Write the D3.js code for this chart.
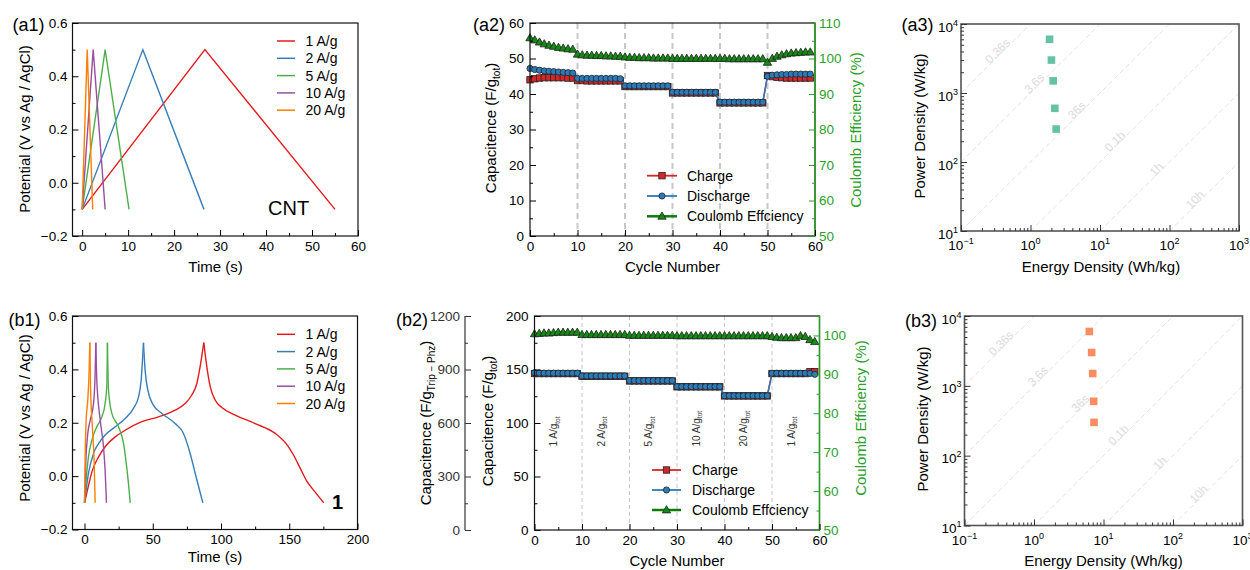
<!DOCTYPE html>
<html><head><meta charset="utf-8">
<script src="https://cdn.jsdelivr.net/npm/d3@7"></script>
<style>body{margin:0;background:#fff;} svg{font-family:"Liberation Sans",Arial,sans-serif;}</style>
</head><body><svg id="c" width="1250" height="570"></svg>
<script>
// ================= DATA =================
const rateLabels = ["1 A/g", "2 A/g", "5 A/g", "10 A/g", "20 A/g"];
// (a1) CNT galvanostatic charge/discharge: [time (s), potential (V)]
const cnt1A = [[0, -0.1], [26.7, 0.5], [55, -0.1]];
const cnt2A = [[0, -0.1], [13.2, 0.5], [26.5, -0.1]];
const cnt5A = [[0, -0.1], [5.0, 0.5], [10.2, -0.1]];
const cnt10A = [[0, -0.1], [2.4, 0.5], [5.0, -0.1]];
const cnt20A = [[0, -0.1], [1.1, 0.5], [2.3, -0.1]];
// (b1) compound 1 : charge and discharge branches
const c1_1A_ch = [[0,-0.1],[2.5,-0.045],[5.4,0.016],[10.3,0.072],[15.1,0.11],[22.5,0.147],[29.8,0.172],[42,0.204],[54.2,0.222],[66.4,0.247],[73.7,0.272],[78.6,0.304],[82.3,0.347],[84.7,0.41],[87.4,0.5]];
const c1_1A_dis = [[87.4,0.5],[89.6,0.41],[92.1,0.335],[95.7,0.285],[100.6,0.257],[110.4,0.229],[125,0.197],[139.7,0.16],[148,0.12],[153,0.08],[158,0.03],[163,-0.02],[169,-0.06],[175.3,-0.1]];
const c1_2A_ch = [[0,-0.1],[2.9,0.01],[6.6,0.085],[10.3,0.122],[15.1,0.154],[22.5,0.185],[29.8,0.216],[35.9,0.254],[39.6,0.297],[41.5,0.36],[43.2,0.5]];
const c1_2A_dis = [[43.2,0.5],[44.4,0.397],[46.4,0.322],[50.5,0.266],[56.7,0.235],[66.4,0.197],[72.5,0.16],[77.4,0.085],[81.1,0.01],[86.7,-0.1]];
const c1_5A_ch = [[0,-0.1],[1.2,-0.015],[2.9,0.072],[5.4,0.135],[9.0,0.185],[12.7,0.222],[15.1,0.272],[16.4,0.347],[16.8,0.5]];
const c1_5A_dis = [[16.8,0.5],[17.6,0.322],[20,0.235],[24.9,0.185],[28.6,0.122],[30.3,0.06],[32.2,-0.027],[33.5,-0.1]];
const c1_10A_ch = [[0,-0.1],[1,0.06],[2.4,0.16],[4.2,0.21],[6.6,0.272],[7.8,0.385],[8.3,0.5]];
const c1_10A_dis = [[8.3,0.5],[9,0.36],[11.5,0.21],[13.9,0.11],[15.1,0.022],[16.1,-0.1]];
const c1_20A_ch = [[0,-0.1],[0.5,0.085],[1.2,0.21],[2.4,0.285],[3.4,0.397],[3.9,0.5]];
const c1_20A_dis = [[3.9,0.5],[4.4,0.335],[5.9,0.172],[7.1,0.047],[7.8,-0.1]];

// cycling (a2, b2)
const cycleNo = [0,1,2,3,4,5,6,7,8,9,10,11,12,13,14,15,16,17,18,19,20,21,22,23,24,25,26,27,28,29,30,31,32,33,34,35,36,37,38,39,40,41,42,43,44,45,46,47,48,49,50,51,52,53,54,55,56,57,58,59];
const cntCharge = [44.0,44.3,44.5,44.6,44.6,44.6,44.6,44.6,44.5,44.5, 43.8,43.8,43.7,43.7,43.7,43.7,43.7,43.7,43.7,43.7, 42.1,42.1,42.1,42.1,42.1,42.1,42.1,42.1,42.1,42.1, 40.3,40.3,40.3,40.3,40.3,40.3,40.3,40.3,40.3,40.3, 37.5,37.5,37.5,37.5,37.5,37.5,37.5,37.5,37.5,37.5, 45.2,44.9,44.7,44.6,44.5,44.5,44.5,44.5,44.5,44.5];
const cntDischarge = [47.2,46.9,46.7,46.5,46.4,46.3,46.2,46.1,46.0,45.9, 44.4,44.4,44.4,44.4,44.4,44.4,44.4,44.4,44.4,44.3, 42.3,42.3,42.3,42.3,42.3,42.3,42.3,42.3,42.3,42.3, 40.5,40.5,40.5,40.5,40.5,40.5,40.5,40.5,40.5,40.5, 37.7,37.7,37.7,37.7,37.7,37.7,37.7,37.7,37.7,37.7, 45.0,45.3,45.4,45.5,45.5,45.6,45.6,45.6,45.6,45.6];
const cntCE = [105.8,105.2,104.6,104.1,103.7,103.4,103.1,102.9,102.7,102.6, 101.2,101.0,100.9,100.9,100.8,100.8,100.7,100.7,100.6,100.6, 100.4,100.3,100.3,100.2,100.2,100.2,100.1,100.1,100.1,100.1, 100.0,100.0,100.0,100.0,100.0,100.0,100.0,100.0,100.0,100.0, 100.0,100.0,99.9,99.9,99.9,99.9,99.9,99.9,99.9,99.9, 98.9,100.0,100.6,101.0,101.3,101.5,101.6,101.7,101.8,101.8];
const c1Charge = [146.2,146.2,146.2,146.2,146.2,146.2,146.2,146.2,146.2,146.2, 143.7,143.7,143.7,143.7,143.7,143.7,143.7,143.7,143.7,143.7, 139.3,139.3,139.3,139.3,139.3,139.3,139.3,139.3,139.3,139.3, 133.8,133.8,133.8,133.8,133.8,133.8,133.8,133.8,133.8,133.8, 125.3,125.3,125.3,125.3,125.3,125.3,125.3,125.3,125.3,125.3, 146.2,146.2,146.2,146.2,146.2,146.2,146.2,146.2,148.0,148.0];
const c1Discharge = [147.0,146.7,146.6,146.6,146.6,146.6,146.6,146.6,146.6,146.6, 144.0,144.0,144.0,144.0,144.0,144.0,144.0,144.0,144.0,144.0, 139.6,139.6,139.6,139.6,139.6,139.6,139.6,139.6,139.6,139.6, 134.0,134.0,134.0,134.0,134.0,134.0,134.0,134.0,134.0,134.0, 125.5,125.5,125.5,125.5,125.5,125.5,125.5,125.5,125.5,125.5, 146.5,146.5,146.5,146.5,146.5,146.5,146.5,146.5,146.3,145.5];
const c1CE = [100.4,100.5,100.6,100.6,100.7,100.8,100.8,100.8,100.8,100.8, 100.2,100.2,100.2,100.2,100.2,100.2,100.2,100.2,100.2,100.2, 100.0,100.0,100.0,100.0,100.0,100.0,100.0,100.0,100.0,100.0, 99.9,99.9,99.9,99.9,99.9,99.9,99.9,99.9,99.9,99.9, 99.9,99.9,99.9,99.9,99.9,99.9,99.9,99.9,99.9,99.9, 99.7,99.5,99.4,99.4,99.4,99.4,99.9,99.7,98.9,98.4];
const stepCycles = [10, 20, 30, 40, 50];
const rateNotes = ["1 A/g", "2 A/g", "5 A/g", "10 A/g", "20 A/g", "1 A/g"];
const noteCycles = [5, 15, 25, 35, 45, 55];

// Ragone (a3, b3)
const cntEnergy = [1.88, 2.0, 2.12, 2.24, 2.34];
const cntPower = [6000, 3000, 1500, 600, 300];
const c1Energy = [6.25, 6.76, 7.0, 7.23, 7.3];
const c1Power = [6000, 3000, 1500, 600, 300];
const timeLabels = ["0.36s", "3.6s", "36s", "0.1h", "1h", "10h"];
const timeHours = [0.0001, 0.001, 0.01, 0.1, 1, 10];
const timeLabelEnergy = [0.37, 1.25, 5.1, 18, 71, 257];

// ================= STYLE =================
const rateColors = ["#e41a1c", "#377eb8", "#4daf4a", "#984ea3", "#ff7f00"];
const chargeColor = "#d62728", dischargeColor = "#2b7bba", ceFill = "#138a13", ceLine = "#0b7d0b", axisGreen = "#2ca02c";
const TICKFS = 13.5;

const svg = d3.select("#c");

function styleAxis(g, color, fs) {
  g.attr("font-family", null).attr("font-size", fs);
  g.selectAll("line").attr("stroke", color);
  g.selectAll("path").attr("stroke", color);
  g.selectAll("text").attr("fill", color);
}
function linAxis(orient, scale, pos, majors, minors, fmt, opts = {}) {
  const color = opts.color || "#000";
  const dir = opts.out ? 1 : -1;
  const mk = orient === "bottom" ? d3.axisBottom : orient === "left" ? d3.axisLeft : d3.axisRight;
  const tr = orient === "bottom" ? `translate(0,${pos})` : `translate(${pos},0)`;
  const gMin = svg.append("g").attr("transform", tr).call(mk(scale).tickValues(minors).tickSize(dir * 3).tickSizeOuter(0).tickFormat(""));
  gMin.select(".domain").remove(); styleAxis(gMin, color, TICKFS);
  const gMaj = svg.append("g").attr("transform", tr).call(mk(scale).tickValues(majors).tickSize(dir * 6).tickSizeOuter(0).tickPadding(opts.pad == null ? 5 : opts.pad).tickFormat(fmt));
  gMaj.select(".domain").remove();
  styleAxis(gMaj, color, TICKFS);
  return gMaj;
}
function frame(R, color, w) {
  svg.append("rect").attr("x", R.L).attr("y", R.T).attr("width", R.R - R.L).attr("height", R.B - R.T)
    .attr("fill", "none").attr("stroke", color).attr("stroke-width", w);
}
function label(txt, x, y, fs, opts = {}) {
  return svg.append("text").attr("x", x).attr("y", y).attr("font-size", fs)
    .attr("text-anchor", opts.anchor || "start").attr("fill", opts.color || "#000")
    .attr("font-weight", opts.bold ? "bold" : null).text(txt);
}
function vTitle(parts, x, y, fs, color) {
  const t = svg.append("text").attr("x", x).attr("y", y).attr("font-size", fs).attr("text-anchor", "middle")
    .attr("fill", color || "#000").attr("transform", `rotate(-90,${x},${y})`);
  parts.forEach(p => {
    const ts = t.append("tspan").text(p.t);
    if (p.sub) ts.attr("font-size", p.fs || fs * 0.65).attr("dy", p.dy || 4);
    if (p.back) ts.attr("dy", -(p.dy || 4));
  });
  return t;
}
const fmt1 = d3.format(".1f"), fmtD = d3.format("d");

// ---------- GCD panels ----------
function gcdPanel(R, xDom, xMaj, xMin, seriesList, curve, legendY, tag, tagPos) {
  const x = d3.scaleLinear(xDom, [R.L, R.R]);
  const y = d3.scaleLinear([-0.2, 0.6], [R.B, R.T]);
  const ln = d3.line().x(d => x(d[0])).y(d => y(d[1])).curve(curve);
  seriesList.forEach((branches, i) => {
    branches.forEach(b => svg.append("path").attr("d", ln(b)).attr("fill", "none")
      .attr("stroke", rateColors[i]).attr("stroke-width", 1.4));
  });
  frame(R, "#111", 1.2);
  linAxis("bottom", x, R.B, xMaj, xMin, fmtD);
  linAxis("left", y, R.L, [-0.2, 0, 0.2, 0.4, 0.6], [-0.1, 0.1, 0.3, 0.5], fmt1);
  rateLabels.forEach((r, i) => {
    const ly = legendY[i];
    svg.append("line").attr("x1", 277).attr("x2", 295).attr("y1", ly).attr("y2", ly)
      .attr("stroke", rateColors[i]).attr("stroke-width", 1.5);
    label(r, 305.5, ly + 5, 14);
  });
  label(tag.t, tagPos[0], tagPos[1], tag.fs, { bold: tag.bold });
}
const A1 = { L: 72.5, R: 358, T: 23, B: 236 };
gcdPanel(A1, [-2.1, 60], [0, 10, 20, 30, 40, 50, 60], [5, 15, 25, 35, 45, 55],
  [[cnt1A], [cnt2A], [cnt5A], [cnt10A], [cnt20A]], d3.curveLinear, [41, 58.3, 75.6, 92.9, 110.2], { t: "CNT", fs: 20 }, [268, 215]);
label("(a1)", 12.5, 31, 18);
vTitle([{ t: "Potential (V vs Ag / AgCl)" }], 29.5, 129, 15);
label("Time (s)", 215.5, 272, 15, { anchor: "middle" });

const B1 = { L: 72.5, R: 357.5, T: 316, B: 529.5 };
gcdPanel(B1, [-8.8, 200], [0, 50, 100, 150, 200], [25, 75, 125, 175],
  [[c1_1A_ch, c1_1A_dis], [c1_2A_ch, c1_2A_dis], [c1_5A_ch, c1_5A_dis], [c1_10A_ch, c1_10A_dis], [c1_20A_ch, c1_20A_dis]],
  d3.curveMonotoneX, [334.3, 351.6, 368.9, 386.2, 403.5], { t: "1", fs: 20, bold: true }, [332, 508.5]);
label("(b1)", 8.5, 326, 18);
vTitle([{ t: "Potential (V vs Ag / AgCl)" }], 29.5, 418, 15);
label("Time (s)", 215, 562, 15, { anchor: "middle" });

// ---------- cycling panels ----------
function marker(type, sel, cx, cy, fill) {
  if (type === "sq") sel.append("rect").attr("x", cx - 3.2).attr("y", cy - 3.2).attr("width", 6.4).attr("height", 6.4)
    .attr("fill", fill).attr("stroke", "#222").attr("stroke-width", 0.8);
  else if (type === "ci") sel.append("circle").attr("cx", cx).attr("cy", cy).attr("r", 3.1)
    .attr("fill", fill).attr("stroke", "#222").attr("stroke-width", 0.8);
  else sel.append("path").attr("d", d3.symbol(d3.symbolTriangle, 30)()).attr("transform", `translate(${cx},${cy + 0.5})`)
    .attr("fill", fill).attr("stroke", "#222").attr("stroke-width", 0.8);
}
function cyclePanel(R, yLdom, yLmaj, yLmin, yRdom, yRmaj, yRmin, charge, discharge, ce, dash, legendPos) {
  const x = d3.scaleLinear([0, 60], [R.L, R.R]);
  const yL = d3.scaleLinear(yLdom, [R.B, R.T]);
  const yR = d3.scaleLinear(yRdom, [R.B, R.T]);
  stepCycles.forEach(c => svg.append("line").attr("x1", x(c)).attr("x2", x(c)).attr("y1", R.T).attr("y2", R.B)
    .attr("stroke", "#c8c8c8").attr("stroke-width", dash.w).attr("stroke-dasharray", dash.d));
  const series = [
    { v: charge, y: yL, type: "sq", fill: chargeColor, line: chargeColor },
    { v: discharge, y: yL, type: "ci", fill: dischargeColor, line: dischargeColor },
    { v: ce, y: yR, type: "tr", fill: ceFill, line: ceLine }];
  series.forEach(s => {
    const ln = d3.line().x((d, i) => x(cycleNo[i])).y(d => s.y(d));
    svg.append("path").attr("d", ln(s.v)).attr("fill", "none").attr("stroke", s.line).attr("stroke-width", 1.5);
    const g = svg.append("g");
    s.v.forEach((d, i) => marker(s.type, g, x(cycleNo[i]), s.y(d), s.fill));
  });
  frame(R, "#111", 1.2);
  svg.append("line").attr("x1", R.R).attr("x2", R.R).attr("y1", R.T).attr("y2", R.B).attr("stroke", axisGreen).attr("stroke-width", 1.5);
  linAxis("bottom", x, R.B, [0, 10, 20, 30, 40, 50, 60], [5, 15, 25, 35, 45, 55], fmtD);
  linAxis("left", yL, R.L, yLmaj, yLmin, fmtD, { pad: 6 });
  linAxis("right", yR, R.R, yRmaj, yRmin, fmtD, { color: axisGreen, pad: 4 });
  // legend
  const names = ["Charge", "Discharge", "Coulomb Effciency"];
  names.forEach((n, i) => {
    const s = series[i], ly = legendPos.y[i];
    svg.append("line").attr("x1", legendPos.x0).attr("x2", legendPos.x1).attr("y1", ly).attr("y2", ly)
      .attr("stroke", s.line).attr("stroke-width", i === 2 ? 2.5 : 1.8);
    marker(s.type, svg, (legendPos.x0 + legendPos.x1) / 2, ly, s.fill);
    label(n, legendPos.tx, ly + 5, 14);
  });
  return { x, yL, yR };
}
const A2 = { L: 530, R: 815, T: 23, B: 236 };
cyclePanel(A2, [0, 60], [0, 10, 20, 30, 40, 50, 60], [5, 15, 25, 35, 45, 55],
  [50, 110], [50, 60, 70, 80, 90, 100, 110], [55, 65, 75, 85, 95, 105],
  cntCharge, cntDischarge, cntCE, { w: 2, d: "6,4" }, { x0: 647, x1: 677, tx: 687, y: [175.7, 196, 216.3] });
label("(a2)", 473, 31, 18);
vTitle([{ t: "Capacitence (F/g" }, { t: "tot", sub: true, fs: 10, dy: 4 }, { t: ")", back: true, dy: 4 }], 496, 128, 15);
vTitle([{ t: "Coulomb Efficiency (%)" }], 861, 130, 15, axisGreen);
label("Cycle Number", 672.5, 272, 15, { anchor: "middle" });

const B2 = { L: 534.5, R: 819.5, T: 316, B: 530 };
const b2 = cyclePanel(B2, [0, 200], [0, 50, 100, 150, 200], [25, 75, 125, 175],
  [50, 105], [50, 60, 70, 80, 90, 100], [55, 65, 75, 85, 95, 105],
  c1Charge, c1Discharge, c1CE, { w: 1, d: "4,3" }, { x0: 652, x1: 681, tx: 692, y: [470, 490, 510] });
// rate annotations
rateNotes.forEach((n, i) => {
  const xx = b2.x(noteCycles[i]) - 1, yy = 446.5;
  const t = svg.append("text").attr("x", xx).attr("y", yy).attr("font-size", 10).attr("fill", "#333")
    .attr("transform", `rotate(-90,${xx},${yy})`);
  t.append("tspan").text(n);
  t.append("tspan").attr("font-size", 6.5).attr("dy", 2.5).text("tot");
});
// secondary left axis (F/g of Trip-Phz)
const yTP = d3.scaleLinear([0, 1200], [B2.B, B2.T]);
svg.append("line").attr("x1", 465).attr("x2", 465).attr("y1", B2.T).attr("y2", B2.B).attr("stroke", "#444").attr("stroke-width", 1.3);
linAxis("left", yTP, 465, [0, 300, 600, 900, 1200], [150, 450, 750, 1050], fmtD, { color: "#333", pad: 5 });
label("(b2)", 396, 326, 18);
vTitle([{ t: "Capacitence (F/g" }, { t: "Trip − Phz", sub: true, fs: 10, dy: 4 }, { t: ")", back: true, dy: 4 }], 431, 423, 15);
vTitle([{ t: "Capacitence (F/g" }, { t: "tot", sub: true, fs: 10, dy: 4 }, { t: ")", back: true, dy: 4 }], 492.5, 421, 15);
vTitle([{ t: "Coulomb Efficiency (%)" }], 866, 418, 15, axisGreen);
label("Cycle Number", 677, 566, 15, { anchor: "middle" });

// ---------- Ragone panels ----------
function ragone(R, energy, power, color) {
  const x = d3.scaleLog([0.1, 1000], [R.L, R.R]);
  const y = d3.scaleLog([10, 10000], [R.B, R.T]);
  // constant-time guide lines
  timeHours.forEach((h, i) => {
    const k = 1 / h;
    const e0 = Math.max(0.1, 10 / k), e1 = Math.min(1000, 10000 / k);
    svg.append("line").attr("x1", x(e0)).attr("y1", y(e0 * k)).attr("x2", x(e1)).attr("y2", y(e1 * k))
      .attr("stroke", "#e3e3e3").attr("stroke-width", 1).attr("stroke-dasharray", "5,3");
    const le = timeLabelEnergy[i];
    const px = x(le), py = y(le * k);
    const ang = Math.atan2(y(10 * k) - y(k), x(10) - x(1)) * 180 / Math.PI;
    svg.append("text").attr("x", px).attr("y", py).attr("font-size", 12).attr("fill", "#dcdcdc")
      .attr("text-anchor", "middle").attr("transform", `rotate(${ang},${px},${py})`).text(timeLabels[i]);
  });
  energy.forEach((e, i) => svg.append("rect").attr("x", x(e) - 3.8).attr("y", y(power[i]) - 3.8)
    .attr("width", 7.6).attr("height", 7.6).attr("fill", color));
  frame(R, "#555", 1.6);
  const decX = [0.1, 1, 10, 100, 1000], decY = [10, 100, 1000, 10000];
  const minX = [], minY = [];
  [0.1, 1, 10, 100].forEach(d => { for (let m = 2; m <= 9; m++) minX.push(d * m); });
  [10, 100, 1000].forEach(d => { for (let m = 2; m <= 9; m++) minY.push(d * m); });
  linAxis("bottom", x, R.B, decX, minX, () => "", { color: "#333" });
  linAxis("left", y, R.L, decY, minY, () => "", { color: "#333" });
  const expX = ["−1", "0", "1", "2", "3"], expY = ["1", "2", "3", "4"];
  decX.forEach((d, i) => {
    const t = svg.append("text").attr("x", x(d)).attr("y", R.B + 19).attr("font-size", TICKFS).attr("text-anchor", "middle");
    t.append("tspan").text("10"); t.append("tspan").attr("font-size", 9).attr("dy", -6).text(expX[i]);
  });
  decY.forEach((d, i) => {
    const t = svg.append("text").attr("x", R.L - 3).attr("y", y(d) + 7.5).attr("font-size", TICKFS).attr("text-anchor", "end");
    t.append("tspan").text("10"); t.append("tspan").attr("font-size", 9).attr("dy", -6).text(expY[i]);
  });
}
const A3 = { L: 961, R: 1239, T: 24, B: 231 };
ragone(A3, cntEnergy, cntPower, "#66c2a5");
label("(a3)", 901.5, 31, 18);
vTitle([{ t: "Power Density (W/kg)" }], 924.5, 126, 15);
label("Energy Density (Wh/kg)", 1101, 272, 15, { anchor: "middle" });

const B3 = { L: 964.5, R: 1242.5, T: 316, B: 525.5 };
ragone(B3, c1Energy, c1Power, "#fc8d62");
label("(b3)", 905, 326.5, 18);
vTitle([{ t: "Power Density (W/kg)" }], 928, 419, 15);
label("Energy Density (Wh/kg)", 1103.5, 566, 15, { anchor: "middle" });
</script></body></html>
